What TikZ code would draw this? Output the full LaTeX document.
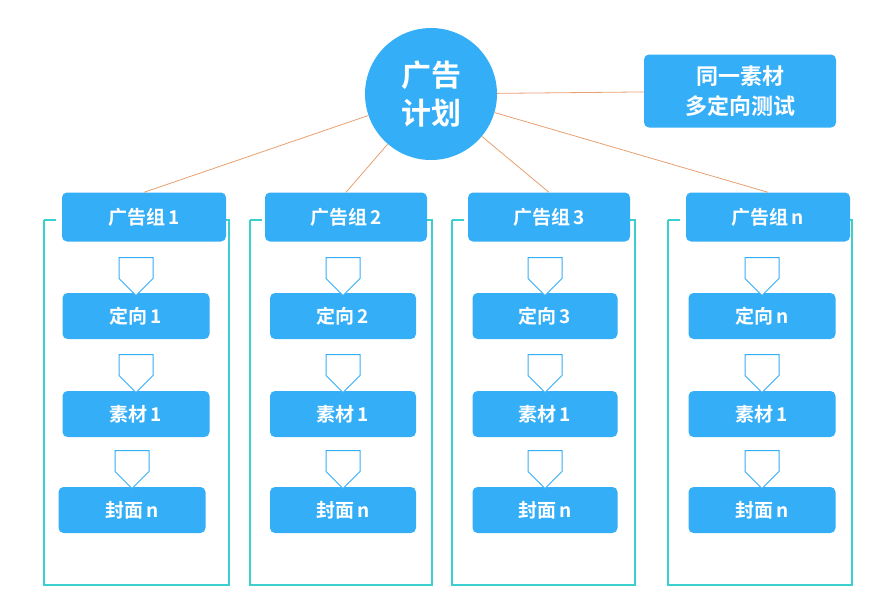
\documentclass[tikz,border=0pt]{standalone}
\usepackage{fontspec}
\newfontfamily\cjk{Noto Sans CJK SC}[BoldFont={Noto Sans CJK SC Bold}]
\usetikzlibrary{shapes.arrows}
\definecolor{bb}{HTML}{35AEF8}
\definecolor{tl}{HTML}{3CCFD0}
\definecolor{ol}{HTML}{E8A070}
\begin{document}
\begin{tikzpicture}[x=1pt,y=-1pt,
 box/.style={fill=bb,rounded corners=5pt,text=white,font=\cjk\bfseries\fontsize{19}{19}\selectfont,inner sep=0pt},
 frame/.style={draw=tl,line width=1.3pt},
 conn/.style={draw=ol,line width=0.8pt},
 arr/.style={single arrow,draw=bb,fill=white,line width=1pt,shape border rotate=270,minimum width=34pt,single arrow head extend=0pt,single arrow tip angle=90,minimum height=38pt,inner sep=0pt,single arrow head indent=0pt}]
\useasboundingbox (0,0) rectangle (875,598);
\node[circle,fill=bb,minimum size=132pt,text=white,font=\cjk\bfseries\fontsize{30}{38}\selectfont,align=center,inner sep=0pt] (plan) at (431,94) {广告\\计划};
\node[box,minimum width=192pt,minimum height=73pt,align=center,font=\cjk\bfseries\fontsize{22}{30}\selectfont] (side) at (740,91) {同一素材\\多定向测试};
\draw[conn] (plan) -- (side);
\foreach \i/\gx/\gw/\fl/\fr/\ix/\iw/\fx/\lab/\tgt in {1/144/164/44/229/136/147/132/1/1, 2/346/162/250/432/343/146/343/2/2, 3/549/162/452/635/545/145/545/3/3, 4/768/164/668/852/762/147/762/n/n}{
  \draw[frame] (\fl,220) -- (\fl,585) -- (\fr,585) -- (\fr,220) -- (\fr-10,220);
  \draw[frame] (\fl,220) -- (\fl+12,220);
  \node[box,minimum width=\gw pt,minimum height=49pt] (g\i) at (\gx,217) {广告组\,\lab};
  \node[box,minimum width=\iw pt,minimum height=46pt] (d\i) at (\ix,316) {定向\,\tgt};
  \node[box,minimum width=\iw pt,minimum height=46pt] (s\i) at (\ix,414) {素材\,1};
  \node[box,minimum width=\iw pt,minimum height=46pt] (c\i) at (\fx,510) {封面\,n};
  \node[arr] at (\ix,268) {};
  \node[arr] at (\ix,365) {};
  \node[arr] at (\fx,461) {};
  \draw[conn] (plan) -- (g\i.north);
}
\end{tikzpicture}
\end{document}
